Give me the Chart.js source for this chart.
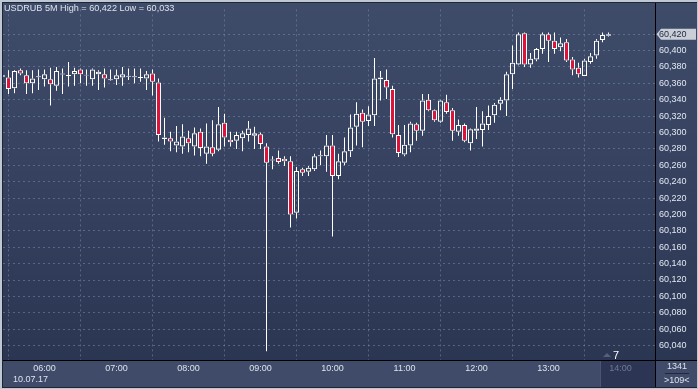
<!DOCTYPE html>
<html><head><meta charset="utf-8">
<script src="https://cdn.jsdelivr.net/npm/chart.js@4"></script>
<style>
html,body{margin:0;padding:0;background:#c3cad5;}
#wrap{position:relative;width:698px;height:389px;overflow:hidden;font-family:"Liberation Sans",Arial,sans-serif;}
canvas{position:absolute;left:0;top:0;}
.t{position:absolute;white-space:nowrap;font-size:9px;line-height:11px;color:#dce3ee;}
</style></head><body>
<div id="wrap">
<canvas id="c" width="698" height="389"></canvas>
<div class="t" style="left:4px;top:2px;font-size:9.1px;line-height:12px;">USDRUB 5M High = 60,422 Low = 60,033</div>
<div class="t" style="left:13px;top:374px;">10.07.17</div>
<div class="t" style="left:613px;top:350px;font-size:11px;color:#ffffff;">7</div>
<div class="t" style="left:667px;top:361px;">1341</div>
<div class="t" style="left:664px;top:375px;">&gt;109&lt;</div>
</div>
<script>
// ---- data (5-minute candles, first bar 05:25, index 0 = 06:00) ----
const firstIndex = -7;
const open  = [60368,60367,60354,60376,60370,60360,60368,60365,60365,60357,60371,60369,60371,60377,60370,60365,60371,60371,60364,60365,60367,60368,60368,60367,60366,60372,60361,60294,60293,60284,60283,60293,60283,60301,60274,60282,60279,60312,60291,60290,60293,60297,60296,60298,60283,60266,60269,60268,60265,60202,60255,60252,60255,60271,60271,60284,60247,60263,60277,60307,60324,60314,60321,60367,60364,60353,60297,60273,60284,60310,60302,60340,60327,60313,60337,60327,60301,60309,60287,60302,60303,60309,60321,60335,60339,60371,60383,60421,60383,60389,60402,60420,60412,60404,60410,60389,60379,60369,60386,60394,60413,60418];
const high  = [60372,60376,60376,60378,60376,60376,60377,60377,60379,60380,60378,60386,60379,60378,60377,60378,60376,60378,60377,60377,60380,60378,60378,60378,60375,60377,60366,60318,60301,60308,60310,60302,60306,60305,60311,60315,60331,60323,60301,60301,60302,60314,60307,60300,60287,60271,60278,60271,60271,60258,60257,60259,60274,60278,60297,60297,60274,60294,60322,60337,60328,60332,60391,60375,60377,60357,60309,60309,60313,60312,60347,60347,60328,60340,60346,60330,60316,60311,60305,60331,60326,60333,60336,60343,60374,60406,60422,60422,60397,60403,60422,60422,60422,60416,60414,60392,60385,60390,60397,60414,60422,60422];
const low   = [60366,60347,60348,60370,60347,60348,60352,60356,60333,60351,60347,60356,60357,60360,60357,60357,60352,60355,60363,60358,60357,60364,60360,60362,60352,60345,60289,60285,60277,60276,60274,60276,60272,60271,60262,60271,60277,60283,60283,60280,60277,60289,60280,60280,60033,60255,60262,60259,60184,60195,60247,60247,60253,60260,60252,60173,60243,60260,60270,60284,60282,60308,60308,60339,60341,60294,60270,60271,60276,60290,60296,60326,60313,60312,60323,60290,60296,60288,60278,60292,60283,60303,60312,60327,60320,60353,60382,60380,60379,60387,60396,60386,60396,60399,60386,60370,60367,60369,60384,60390,60410,60417];
const close = [60370,60353,60375,60372,60360,60366,60368,60371,60359,60375,60372,60370,60375,60371,60370,60377,60374,60366,60365,60370,60371,60369,60368,60367,60371,60362,60297,60292,60289,60289,60295,60287,60299,60281,60283,60274,60310,60294,60288,60297,60299,60305,60299,60286,60263,60267,60264,60265,60200,60253,60251,60257,60271,60272,60284,60247,60265,60277,60306,60323,60313,60322,60366,60365,60355,60298,60275,60285,60311,60302,60339,60327,60315,60339,60325,60302,60309,60290,60304,60305,60311,60320,60334,60340,60371,60385,60420,60383,60390,60402,60420,60412,60402,60409,60388,60377,60371,60388,60393,60412,60419,60420];
const hourIndex  = [0,12,24,36,48,60,72,84,96];
const hourLabels = ['06:00','07:00','08:00','09:00','10:00','11:00','12:00','13:00','14:00'];
const priceTicks = [60040,60060,60080,60100,60120,60140,60160,60180,60200,60220,60240,60260,60280,60300,60320,60340,60360,60380,60400,60420];
const lastPrice = 60420;

// ---- build datasets ----
const bodies = [], upWicks = [], dnWicks = [], bodyColors = [];
open.forEach((o, i) => {
  const x = firstIndex + i, c = close[i];
  let lo = Math.min(o, c), hi = Math.max(o, c);
  if (hi - lo < 1.2) { const m = (hi + lo) / 2; lo = m - 0.6; hi = m + 0.6; }
  bodies.push({x, y: [lo, hi]});
  bodyColors.push(c < o ? '#dc143c' : 'rgba(0,0,0,0)');
  if (high[i] > hi) upWicks.push({x, y: [hi, high[i]]});
  if (low[i] < lo) dnWicks.push({x, y: [low[i], lo]});
});

const bg = {
  id: 'bg',
  beforeDraw(chart) {
    const ctx = chart.ctx;
    ctx.save();
    ctx.fillStyle = '#bfc7d2'; ctx.fillRect(0, 0, 698, 389);
    ctx.fillStyle = '#1d2538'; ctx.fillRect(2, 2, 695, 386);
    const g = ctx.createLinearGradient(0, 3, 0, 360);
    g.addColorStop(0, '#3f4c69'); g.addColorStop(1, '#2b3653');
    ctx.fillStyle = g; ctx.fillRect(3, 3, 694, 357);
    ctx.fillStyle = '#3f4b68'; ctx.fillRect(3, 361, 694, 26);
    ctx.fillStyle = '#2c3654'; ctx.fillRect(601, 361, 54, 26);
    ctx.fillStyle = '#4a566f'; ctx.fillRect(600, 361, 1, 26);
    ctx.fillStyle = '#000000';
    ctx.fillRect(3, 360, 694, 1);
    ctx.fillRect(655, 3, 1, 384);
    ctx.fillStyle = '#1f283d'; ctx.fillRect(665, 373, 24, 1);
    const y = chart.scales.y.getPixelForValue(lastPrice);
    ctx.fillStyle = '#c9ced7';
    ctx.beginPath();
    ctx.moveTo(656.5, y); ctx.lineTo(661, y - 5.5); ctx.lineTo(696, y - 5.5);
    ctx.lineTo(696, y + 5.5); ctx.lineTo(661, y + 5.5); ctx.closePath(); ctx.fill();
    ctx.fillStyle = '#566178';
    ctx.beginPath(); ctx.moveTo(603, 357); ctx.lineTo(607, 353); ctx.lineTo(611, 357); ctx.closePath(); ctx.fill();
    ctx.restore();
  }
};

Chart.defaults.font.family = '"Liberation Sans", Arial, sans-serif';
Chart.defaults.font.size = 9;

new Chart(document.getElementById('c'), {
  type: 'bar',
  data: {
    datasets: [
      {data: upWicks, backgroundColor: '#ffffff', borderWidth: 0, barThickness: 1, grouped: false, inflateAmount: 0},
      {data: dnWicks, backgroundColor: '#ffffff', borderWidth: 0, barThickness: 1, grouped: false, inflateAmount: 0},
      {data: bodies, backgroundColor: bodyColors, borderColor: '#ffffff', borderWidth: 1, borderSkipped: false,
       barThickness: 5, grouped: false, inflateAmount: 0}
    ]
  },
  options: {
    responsive: false,
    animation: false,
    layout: {padding: {left: 3, top: 3, right: 0, bottom: 0}},
    plugins: {legend: {display: false}, tooltip: {enabled: false}, title: {display: false}},
    scales: {
      x: {
        type: 'linear', min: -6.9167, max: 101.75, offset: false,
        afterFit(s) { s.height = 29; },
        afterBuildTicks(s) { s.ticks = hourIndex.map(v => ({value: v})); },
        grid: {color: 'rgba(120,138,170,0.55)', drawTicks: false, lineWidth: 1},
        border: {display: false, dash: [2, 3]},
        ticks: {
          autoSkip: false, maxRotation: 0, padding: 3,
          color: (c) => c.index === 8 ? '#6d7a94' : '#dce3ee',
          callback: (v, i) => hourLabels[i]
        }
      },
      y: {
        position: 'right', min: 60022.4, max: 60450.2,
        afterFit(s) { s.width = 43; },
        afterBuildTicks(s) { s.ticks = priceTicks.map(v => ({value: v})); },
        grid: {color: 'rgba(120,138,170,0.55)', drawTicks: false, lineWidth: 1},
        border: {display: false, dash: [2, 3]},
        ticks: {
          padding: 4,
          color: (c) => c.tick && c.tick.value === lastPrice ? '#232c44' : '#e2e8f1',
          callback: (v) => Number(v).toLocaleString('en-US')
        }
      }
    }
  },
  plugins: [bg]
});
</script>
</body></html>
